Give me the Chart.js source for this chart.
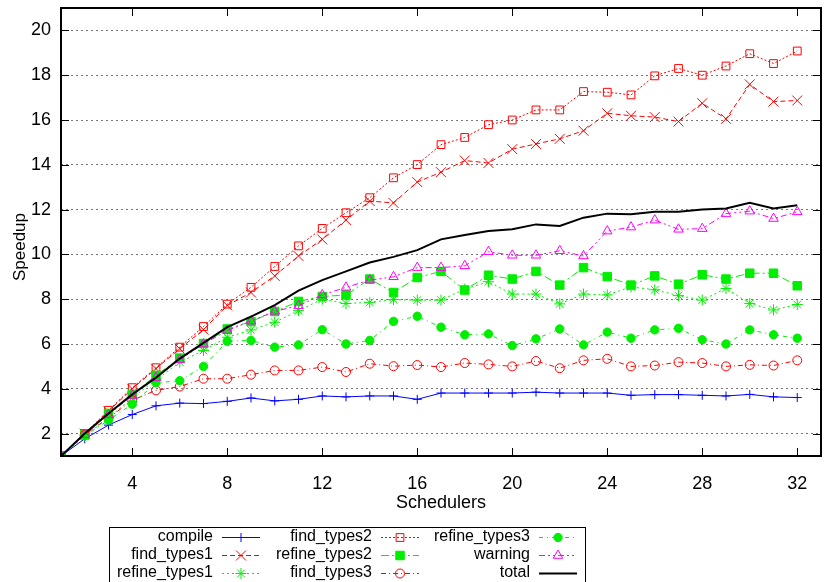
<!DOCTYPE html>
<html>
<head>
<meta charset="utf-8">
<script src="https://cdn.jsdelivr.net/npm/chart.js@4.4.1/dist/chart.umd.min.js"></script>
<style>
  body { margin: 0; background: #fff; }
  canvas { display: block; }
</style>
</head>
<body>
<canvas id="speedupChart" width="829" height="582"></canvas>
<script>
// schedulers 1..32
const schedulers = [];
for (let n = 1; n <= 32; n++) schedulers.push(n);

const xTicks = [4, 8, 12, 16, 20, 24, 28, 32];
const yTicks = [2, 4, 6, 8, 10, 12, 14, 16, 18, 20];

const compile = [1, 1.77, 2.38, 2.85, 3.24, 3.36, 3.34, 3.44, 3.59, 3.46, 3.53, 3.68, 3.64, 3.68, 3.68, 3.53,
  3.81, 3.81, 3.81, 3.81, 3.85, 3.81, 3.81, 3.81, 3.71, 3.74, 3.74, 3.71, 3.68, 3.75, 3.64, 3.61];
const findTypes1 = [1, 2.0, 3.0, 4.0, 4.9, 5.79, 6.64, 7.72, 8.3, 9.04, 9.93, 10.67, 11.53, 12.38, 12.3, 13.23,
  13.67, 14.19, 14.08, 14.7, 14.93, 15.16, 15.52, 16.3, 16.19, 16.13, 15.93, 16.75, 16.05, 17.59, 16.82, 16.87];
const refineTypes1 = [1, 1.9, 2.7, 3.6, 4.4, 5.19, 5.71, 6.3, 6.63, 6.97, 7.49, 8.0, 7.81, 7.86, 7.98, 7.96,
  7.96, 8.45, 8.78, 8.23, 8.23, 7.79, 8.23, 8.19, 8.55, 8.42, 8.16, 7.96, 8.48, 7.81, 7.52, 7.76];
const findTypes2 = [1, 2.0, 3.04, 4.05, 4.94, 5.86, 6.78, 7.78, 8.53, 9.46, 10.38, 11.16, 11.86, 12.53, 13.42, 14.01,
  14.9, 15.22, 15.79, 16.0, 16.45, 16.45, 17.27, 17.24, 17.12, 17.97, 18.3, 18.0, 18.41, 18.96, 18.52, 19.08];
const refineTypes2 = [1, 1.95, 2.9, 3.75, 4.6, 5.37, 6.02, 6.67, 7.0, 7.45, 7.9, 8.12, 8.19, 8.9, 8.3, 8.97,
  9.24, 8.41, 9.07, 8.9, 9.24, 8.63, 9.41, 9.01, 8.63, 9.04, 8.67, 9.09, 8.9, 9.16, 9.16, 8.6];
const findTypes3 = [1, 1.95, 2.7, 3.49, 3.93, 4.1, 4.45, 4.45, 4.63, 4.82, 4.82, 4.97, 4.75, 5.12, 5.01, 5.06,
  4.97, 5.15, 5.09, 5.0, 5.24, 4.92, 5.27, 5.34, 5.0, 5.04, 5.19, 5.15, 5.0, 5.07, 5.04, 5.27];
const refineTypes3 = [1, 1.9, 2.6, 3.31, 4.27, 4.36, 5.0, 6.12, 6.16, 5.86, 5.96, 6.64, 6.0, 6.16, 7.01, 7.24,
  6.75, 6.41, 6.45, 5.93, 6.23, 6.67, 5.96, 6.53, 6.26, 6.63, 6.7, 6.19, 6.0, 6.63, 6.41, 6.26];
const warning = [1, 1.95, 2.85, 3.7, 4.5, 5.3, 6.0, 6.6, 7.02, 7.46, 7.71, 8.19, 8.53, 8.85, 9.0, 9.41,
  9.41, 9.49, 10.12, 9.96, 9.96, 10.16, 9.93, 11.04, 11.22, 11.53, 11.12, 11.15, 11.82, 11.93, 11.6, 11.9];
const total = [1, 2.0, 2.9, 3.75, 4.5, 5.35, 6.05, 6.75, 7.22, 7.74, 8.38, 8.85, 9.24, 9.64, 9.89, 10.19,
  10.67, 10.87, 11.04, 11.12, 11.34, 11.27, 11.64, 11.82, 11.79, 11.9, 11.9, 12.0, 12.05, 12.3, 12.05, 12.19];

const RED = '#ff0000', GREEN = '#00ee00', BLUE = '#0000ff', MAGENTA = '#ff00ff';
const NONE = 'rgba(0,0,0,0)';
const textFont = "'Liberation Sans', Arial, sans-serif";

function serie(label, values, color, dash, style, radius, filled, width) {
  return {
    label: label,
    data: values.map((v, i) => ({ x: schedulers[i], y: v })),
    borderColor: color,
    borderWidth: width || 1,
    borderDash: dash,
    pointStyle: style,
    pointRadius: radius,
    pointBorderWidth: 1,
    pointBorderColor: color,
    pointBackgroundColor: filled ? color : NONE,
    backgroundColor: filled ? color : NONE,
    fill: false,
    tension: 0
  };
}

// ordem da legenda: coluna por coluna
const datasets = [
  serie('compile', compile, BLUE, [], 'cross', 4.5, false),
  serie('find_types1', findTypes1, RED, [5, 3], 'crossRot', 7, false),
  serie('refine_types1', refineTypes1, GREEN, [2, 3], 'star', 5.5, false),
  serie('find_types2', findTypes2, RED, [2, 2], 'rect', 5.5, false),
  serie('refine_types2', refineTypes2, GREEN, [8, 3, 2, 3], 'rect', 6, true),
  serie('find_types3', findTypes3, RED, [5, 3, 1, 3], 'circle', 4.5, false),
  serie('refine_types3', refineTypes3, GREEN, [4, 4, 1, 4], 'circle', 4.2, true),
  serie('warning', warning, MAGENTA, [6, 3, 2, 3, 2, 3], 'triangle', 5.5, false),
  serie('total', total, '#000000', [], 'circle', 0, false, 2)
];
datasets.forEach((d, i) => { d.order = datasets.length - i; });

const legendCols = [213, 372, 530];
const legendRows = [537, 555, 573];

function texto(ctx, txt, x, y, align, size, rot) {
  ctx.save();
  ctx.translate(x, y);
  if (rot) ctx.rotate(rot);
  ctx.textAlign = align;
  ctx.textBaseline = 'middle';
  ctx.fillStyle = '#000';
  ctx.font = size + 'px ' + textFont;
  ctx.fillText(txt, 0, 0);
  ctx.restore();
}

const molduraPlugin = {
  id: 'moldura',
  afterDraw(chart) {
    const { ctx, chartArea: a, scales: { x, y } } = chart;
    ctx.save();
    ctx.setLineDash([]);
    ctx.strokeStyle = '#000';
    ctx.lineWidth = 1;
    // marcas dos eixos (para dentro)
    ctx.beginPath();
    xTicks.forEach(v => {
      const px = Math.round(x.getPixelForValue(v)) + 0.5;
      ctx.moveTo(px, a.bottom); ctx.lineTo(px, a.bottom - 8);
      ctx.moveTo(px, a.top); ctx.lineTo(px, a.top + 8);
    });
    yTicks.forEach(v => {
      const py = Math.round(y.getPixelForValue(v)) + 0.5;
      ctx.moveTo(a.left, py); ctx.lineTo(a.left + 8, py);
      ctx.moveTo(a.right, py); ctx.lineTo(a.right - 8, py);
    });
    ctx.stroke();
    ctx.lineWidth = 2;
    ctx.strokeRect(a.left, a.top, a.right - a.left, a.bottom - a.top);

    // titulos dos eixos
    texto(ctx, 'Speedup', 20, 247, 'center', 17, -Math.PI / 2);
    texto(ctx, 'Schedulers', (a.left + a.right) / 2, 503, 'center', 18, 0);

    // legenda
    ctx.lineWidth = 1;
    ctx.strokeStyle = '#000';
    ctx.strokeRect(109.5, 527.5, 476, 60);
    chart.data.datasets.forEach((ds, i) => {
      const lx = legendCols[Math.floor(i / 3)];
      const ly = legendRows[i % 3];
      texto(ctx, ds.label, lx, ly, 'right', 16, 0);
      ctx.strokeStyle = ds.borderColor;
      ctx.lineWidth = ds.borderWidth;
      ctx.setLineDash(ds.borderDash);
      ctx.beginPath();
      ctx.moveTo(lx + 9, ly + 0.5);
      ctx.lineTo(lx + 47, ly + 0.5);
      ctx.stroke();
      ctx.setLineDash([]);
      if (ds.pointRadius > 0 && Chart.helpers && Chart.helpers.drawPoint) {
        ctx.lineWidth = 1;
        ctx.fillStyle = ds.pointBackgroundColor;
        ctx.strokeStyle = ds.pointBorderColor;
        Chart.helpers.drawPoint(ctx, {
          pointStyle: ds.pointStyle, radius: ds.pointRadius, rotation: 0, borderWidth: 1
        }, lx + 28, ly + 0.5);
      }
    });
    ctx.restore();
  }
};

const ctx = document.getElementById('speedupChart').getContext('2d');
const speedupChart = new Chart(ctx, {
  type: 'line',
  data: { datasets: datasets },
  options: {
    responsive: false,
    animation: false,
    events: [],
    layout: { padding: { top: 7, right: 2, left: 0, bottom: 0 } },
    plugins: { legend: { display: false }, tooltip: { enabled: false } },
    scales: {
      x: {
        type: 'linear',
        min: 1,
        max: 33,
        afterBuildTicks: s => { s.ticks = xTicks.map(v => ({ value: v })); },
        afterFit: s => { s.height = 126; s.paddingLeft = 0; s.paddingRight = 0; },
        grid: { display: false, drawTicks: false },
        border: { display: false },
        ticks: { padding: 17, color: '#000', font: { family: textFont, size: 18 }, maxRotation: 0 }
      },
      y: {
        type: 'linear',
        min: 1,
        max: 21,
        afterBuildTicks: s => { s.ticks = yTicks.map(v => ({ value: v })); },
        afterFit: s => { s.width = 61; s.paddingTop = 0; s.paddingBottom = 0; },
        grid: { color: '#777', lineWidth: 1, drawTicks: false },
        border: { display: false, dash: [2, 3] },
        ticks: { padding: 10, color: '#000', font: { family: textFont, size: 18 } }
      }
    }
  },
  plugins: [molduraPlugin]
});
</script>
</body>
</html>
